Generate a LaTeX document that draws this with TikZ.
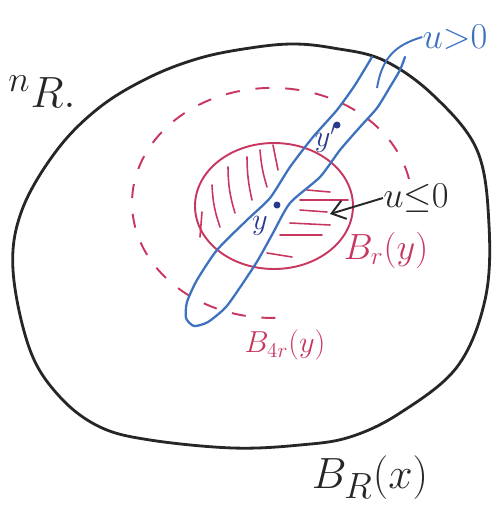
\documentclass[tikz,border=0pt]{standalone}
\usepackage{amsmath}
\usepackage{amssymb}
\usepackage{tikz}
\usetikzlibrary{arrows.meta}
\definecolor{inkblack}{HTML}{262626}
\definecolor{inkblue}{HTML}{3E72BE}
\definecolor{inkred}{HTML}{C8375F}
\definecolor{inkdot}{HTML}{2A3A8C}

\begin{document}
\begin{tikzpicture}[
  x=0.02cm, y=-0.02cm,
  lbl/.style={inner sep=0pt,font=\fontsize{20}{22}\selectfont},
  bigball/.style={draw=inkblack,line width=1.6pt},
  redball/.style={draw=inkred,line width=1.1pt},
  farball/.style={draw=inkred,line width=1.1pt,dash pattern=on 8pt off 9pt},
  hatch/.style={draw=inkred,line width=0.9pt,line cap=round},
  strip/.style={draw=inkblue,line width=1.3pt,line cap=round},
  pt/.style={fill=inkdot}
]
\useasboundingbox (0,0) rectangle (497,505);

% the ball B_R(x)
\draw[bigball] plot[smooth cycle,tension=0.6] coordinates {
  (13,270) (22,210) (57,150) (100,107) (150,77) (200,58) (250,48) (293,44)
  (333,48) (383,60) (433,95) (477,150) (489,225) (485,300) (457,367)
  (400,413) (350,437) (300,445) (233,448) (150,440) (100,427) (60,397) (30,350)};

% the ball B_4r(y), broken line
\draw[farball] (409,179) arc[start angle=-12, end angle=-277, x radius=140, y radius=115];

% the ball B_r(y) and its hatching
\draw[redball] (274,206) ellipse [x radius=79, y radius=63];
\draw[hatch] (200,237) -- (202,212)
  (220,227) to[bend left=8] (212,185)
  (235,213) to[bend left=8] (228,167)
  (252,200) to[bend left=6] (247,157)
  (267,187) to[bend left=6] (260,150)
  (278,170) -- (273,145);
\draw[hatch] (307,190) -- (330,192)
  (300,200) -- (348,200)
  (300,210) -- (327,212)
  (290,223) -- (330,225)
  (280,235) -- (322,235)
  (267,253) -- (292,257);

% the set where u > 0
\draw[strip] plot[smooth,tension=0.4] coordinates {
  (405,57) (400,70) (390,87) (377,108) (360,127) (340,150) (320,177)
  (290,203) (273,233) (258,260) (243,283) (226,307) (208,322) (194,326)
  (186,318) (187,302) (197,280) (217,250) (247,220) (270,198) (290,167)
  (313,137) (337,110) (355,85) (372,57)};

% points
\coordinate (y0) at (277,205);
\coordinate (y1) at (337,125);
\fill[pt] (y0) circle (3.5);
\fill[pt] (y1) circle (3.5);
\node[lbl,text=inkdot,font=\fontsize{18}{20}\selectfont] (ylab) at (260,226) {$y$};
\node[lbl,text=inkdot,font=\fontsize{18}{20}\selectfont] (yplab) at (326,138) {$y'$};

% labels
\node[lbl,text=inkblue] (upos) at (455,37) {$u{>}0$};
\node[lbl,text=inkblack] (uneg) at (416,198) {$u{\leq}0$};
\node[lbl,text=inkred] (br) at (386,250) {$B_r(y)$};
\node[lbl,text=inkred,font=\fontsize{17}{19}\selectfont] (bfour) at (285,345) {$B_{4r}(y)$};
\node[lbl,text=inkblack,font=\fontsize{28}{30}\selectfont] (bbig) at (370,478) {$B_R(x)$};
\node[lbl,text=inkblack,font=\fontsize{28}{30}\selectfont] (rn) at (42,92) {$^{n}R.$};

% connectors
\coordinate (tip) at (330,214);
\coordinate (lead) at (377,88);
\draw[inkblack,line width=1.1pt,-{Straight Barb[length=2.6mm,width=3.8mm]}] (uneg.west) -- (tip);
\draw[inkblue,line width=1.1pt] (lead) .. controls (382,58) and (395,45) .. (upos.west);
\end{tikzpicture}
\end{document}
